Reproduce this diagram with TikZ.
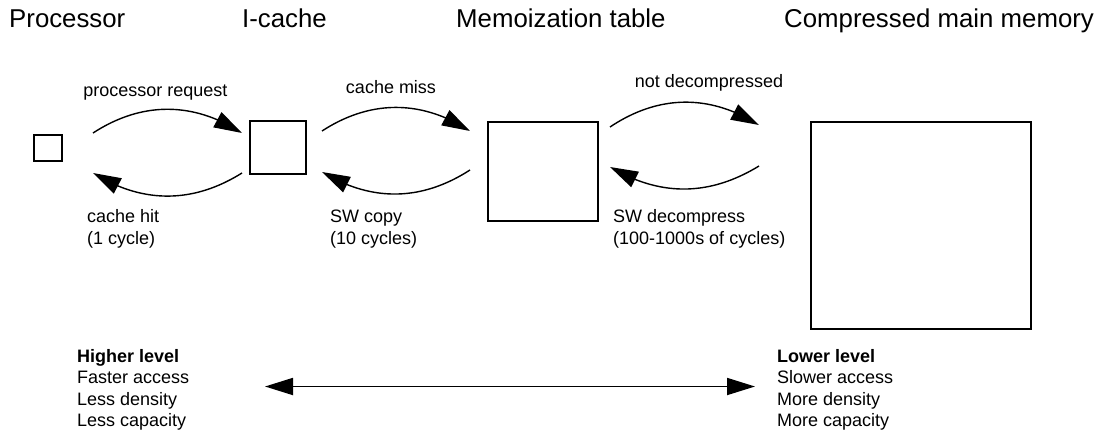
\documentclass[tikz,border=0pt]{standalone}
\usepackage{fontspec}
\setmainfont{Liberation Sans}
\usetikzlibrary{arrows.meta,bending}
\begin{document}
\begin{tikzpicture}[x=1pt,y=1pt,
  >={Triangle[length=28pt, width=17pt, flex]},
  title/.style={anchor=base west, inner sep=0pt, font=\fontsize{25.8}{30}\selectfont},
  lbl/.style={anchor=base west, inner sep=0pt, align=left, font=\fontsize{18}{21.3}\selectfont},
  lblc/.style={anchor=base, inner sep=0pt, font=\fontsize{18}{21.3}\selectfont},
  store/.style={draw, line width=1.8pt, inner sep=0pt, outer sep=0pt},
  flow/.style={line width=1.4pt, ->},
  span/.style={line width=1.8pt, <->}]
\useasboundingbox[fill=white] (0,0) rectangle (1107,-436);

% level titles
\node[title] (tproc) at (9,-28) {Processor};
\node[title] (tic)   at (242,-28) {I-cache};
\node[title] (tmemo) at (456,-28) {Memoization table};
\node[title] (tmem)  at (784,-28) {Compressed main memory};

% storage levels, sized by capacity
\node[store, minimum width=28, minimum height=26]  (proc) at (48,-148) {};
\node[store, minimum width=56, minimum height=53]  (ic)   at (278,-147.5) {};
\node[store, minimum width=110, minimum height=99] (memo) at (543,-171.5) {};
\node[store, minimum width=220, minimum height=207] (mem) at (921,-225.5) {};

% ends of the request / response arcs
\coordinate (r1s) at (93,-133);  \coordinate (r1e) at (242,-133);
\coordinate (b1s) at (242,-173); \coordinate (b1e) at (93,-173);
\coordinate (r2s) at (322,-131); \coordinate (r2e) at (470,-131);
\coordinate (b2s) at (470,-170); \coordinate (b2e) at (322,-172);
\coordinate (r3s) at (610,-127); \coordinate (r3e) at (759,-125);
\coordinate (b3s) at (759,-166); \coordinate (b3e) at (610,-167);

\draw[flow] (r1s) to[bend left=33] (r1e);
\draw[flow] (b1s) to[bend left=32] (b1e);
\draw[flow] (r2s) to[bend left=33] (r2e);
\draw[flow] (b2s) to[bend left=32] (b2e);
\draw[flow] (r3s) to[bend left=33] (r3e);
\draw[flow] (b3s) to[bend left=31] (b3e);

% arc labels (multi-line nodes sit on the baseline of their last line)
\node[lblc] (lreq)  at (155.5,-96) {processor request};
\node[lblc] (lmiss) at (391,-93) {cache miss};
\node[lblc] (lnd)   at (709,-87) {not decompressed};
\node[lbl] (lhit)  at (87,-244) {cache hit\\(1 cycle)};
\node[lbl] (lcopy) at (330,-244) {SW copy\\(10 cycles)};
\node[lbl] (ldec)  at (613,-244) {SW decompress\\(100-1000s of cycles)};

% hierarchy summary
\node[lbl] (hi) at (77,-426.5) {\textbf{Higher level}\\Faster access\\Less density\\Less capacity};
\node[lbl] (lo) at (777,-426.5) {\textbf{Lower level}\\Slower access\\More density\\More capacity};
\coordinate (sl) at (265,-386.5);
\coordinate (sr) at (755,-386.5);
\draw[span] (sl) -- (sr);
\end{tikzpicture}
\end{document}
